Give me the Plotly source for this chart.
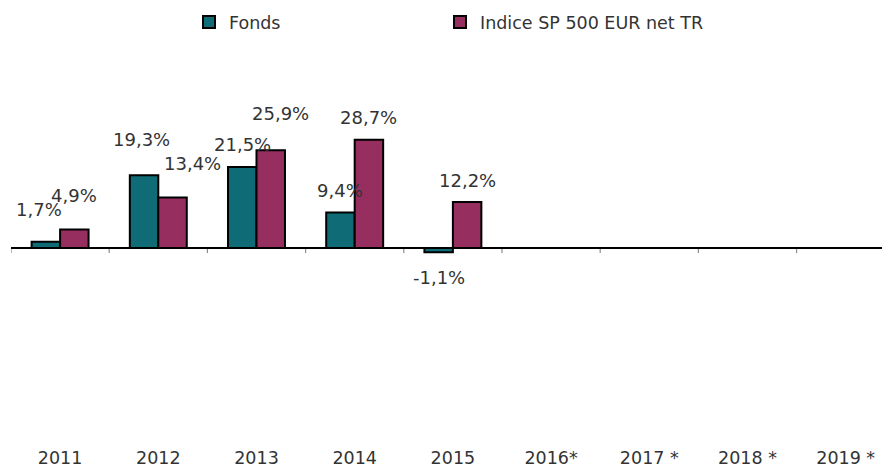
import plotly.graph_objects as go

years = ["2011", "2012", "2013", "2014", "2015", "2016*", "2017 *", "2018 *", "2019 *"]
fonds = [1.7, 19.3, 21.5, 9.4, -1.1, None, None, None, None]
indice = [4.9, 13.4, 25.9, 28.7, 12.2, None, None, None, None]
series_names = ["Fonds", "Indice SP 500 EUR net TR"]

# label nudges (pixels) for labels that were moved by hand in the original
label_nudge = {
    (0, "2011"): (-7, 10), (1, "2011"): (0, 12),
    (0, "2012"): (-3, 14), (1, "2012"): (20, 12),
    (1, "2013"): (10, 15),
}

colors = ["#0F6C77", "#962F60"]
FONT = "Verdana, DejaVu Sans, sans-serif"
TXT = "#333333"
Y_MIN, Y_MAX = -50, 40
BAR_PX = 28.5
PLOT_L, PLOT_W = 11, 871
PLOT_T, PLOT_H = 97, 340

fig = go.Figure()
legends = ["legend", "legend2"]
for i, (name, vals) in enumerate(zip(series_names, [fonds, indice])):
    fig.add_trace(go.Bar(
        x=years, y=vals, name=name, legend=legends[i], showlegend=True,
        marker=dict(color=colors[i], line=dict(color="#000000", width=2)),
        hoverinfo="skip",
    ))

# small tick marks under the zero line, at the category boundaries
shapes = []
for k in range(len(years) + 1):
    shapes.append(dict(
        type="line", xref="x", yref="y", ysizemode="pixel", yanchor=0,
        x0=k - 0.5, x1=k - 0.5, y0=-1, y1=-5,
        line=dict(color="#8c8c8c", width=1.2), layer="above",
    ))

annotations = []
for i, vals in enumerate([fonds, indice]):
    for k, v in enumerate(vals):
        if v is None:
            continue
        dx, dy = label_nudge.get((i, years[k]), (0, 0))
        base_dx = -BAR_PX / 2 if i == 0 else BAR_PX / 2
        shift = 22 + dy if v >= 0 else -25
        annotations.append(dict(
            x=k, y=v, xref="x", yref="y",
            text=f"{v:.1f}%".replace(".", ","),
            showarrow=False, xshift=base_dx + dx, yshift=shift,
            font=dict(family=FONT, size=18, color=TXT),
        ))

leg_common = dict(orientation="h", xanchor="left", y=1 + (PLOT_T - 22) / PLOT_H,
                  yanchor="middle", font=dict(family=FONT, size=17.5, color=TXT),
                  itemwidth=30, bgcolor="rgba(0,0,0,0)", visible=True)

fig.update_layout(
    width=882, height=468,
    margin=dict(l=PLOT_L, r=882 - PLOT_L - PLOT_W, t=PLOT_T, b=468 - PLOT_T - PLOT_H,
                autoexpand=False),
    paper_bgcolor="white", plot_bgcolor="white",
    showlegend=True,
    barmode="group", bargap=0.42, bargroupgap=0,
    font=dict(family=FONT, size=17.5, color=TXT),
    annotations=annotations,
    shapes=shapes,
    legend=dict(x=(189 - PLOT_L) / PLOT_W, **leg_common),
    legend2=dict(x=(440 - PLOT_L) / PLOT_W, **leg_common),
    xaxis=dict(type="category", categoryorder="array", categoryarray=years,
               range=[-0.5, 8.37], showline=False, showgrid=False, zeroline=False,
               ticks="outside", ticklen=5, tickcolor="rgba(0,0,0,0)",
               tickfont=dict(family=FONT, size=17.5, color=TXT)),
    yaxis=dict(range=[Y_MIN, Y_MAX], showticklabels=False, ticks="", showgrid=False,
               zeroline=True, zerolinecolor="#000000", zerolinewidth=1.5, showline=False),
)

fig.write_html("out.html", config={"displayModeBar": False},
               post_script="document.body.style.margin='0px';")
